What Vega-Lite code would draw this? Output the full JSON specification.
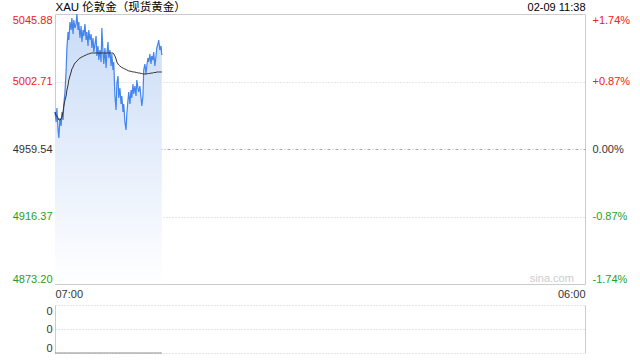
{
  "$schema": "https://vega.github.io/schema/vega-lite/v6.json",
  "background": "white",
  "padding": {"left": 11, "top": 0, "right": 0, "bottom": 0},
  "spacing": 5,
  "config": {
    "font": "Liberation Sans, Noto Sans CJK SC",
    "view": {"stroke": "#cccccc"},
    "axis": {"labelFont": "Liberation Sans", "labelFontSize": 11, "titleFont": "Liberation Sans, Noto Sans CJK SC"}
  },
  "datasets": {
    "px": [
      {"t":0,"p":4983.20,"a":4983.20,"v":0},{"t":3,"p":4976.80,"a":4980.64,"v":0},{"t":5,"p":4985.76,"a":4980.64,"v":0},{"t":8,"p":4971.69,"a":4979.36,"v":0},
      {"t":10,"p":4966.57,"a":4978.08,"v":0},{"t":13,"p":4979.36,"a":4978.08,"v":0},{"t":16,"p":4974.25,"a":4978.72,"v":0},{"t":18,"p":4983.20,"a":4980.00,"v":0},
      {"t":21,"p":4978.08,"a":4983.20,"v":0},{"t":23,"p":4988.31,"a":4987.04,"v":0},{"t":26,"p":4995.99,"a":4990.87,"v":0},{"t":29,"p":5010.06,"a":4993.43,"v":0},
      {"t":31,"p":5024.13,"a":4997.27,"v":0},{"t":34,"p":5034.36,"a":5000.47,"v":0},{"t":36,"p":5029.25,"a":5003.67,"v":0},{"t":39,"p":5040.76,"a":5006.22,"v":0},
      {"t":42,"p":5035.64,"a":5008.78,"v":0},{"t":44,"p":5043.32,"a":5010.70,"v":0},{"t":47,"p":5033.09,"a":5011.98,"v":0},{"t":49,"p":5042.04,"a":5013.26,"v":0},
      {"t":52,"p":5036.92,"a":5014.54,"v":0},{"t":55,"p":5039.48,"a":5015.18,"v":0},{"t":57,"p":5045.88,"a":5015.82,"v":0},{"t":60,"p":5035.64,"a":5016.46,"v":0},
      {"t":62,"p":5040.76,"a":5017.10,"v":0},{"t":65,"p":5030.53,"a":5017.74,"v":0},{"t":68,"p":5038.20,"a":5018.05,"v":0},{"t":70,"p":5027.97,"a":5018.37,"v":0},
      {"t":73,"p":5035.64,"a":5018.69,"v":0},{"t":75,"p":5031.81,"a":5019.01,"v":0},{"t":78,"p":5039.48,"a":5019.33,"v":0},{"t":81,"p":5029.25,"a":5019.65,"v":0},
      {"t":83,"p":5034.36,"a":5019.97,"v":0},{"t":86,"p":5025.41,"a":5020.29,"v":0},{"t":88,"p":5035.64,"a":5020.29,"v":0},{"t":91,"p":5029.25,"a":5020.61,"v":0},
      {"t":94,"p":5033.09,"a":5020.94,"v":0},{"t":96,"p":5024.13,"a":5020.94,"v":0},{"t":99,"p":5030.53,"a":5020.94,"v":0},{"t":101,"p":5021.57,"a":5020.94,"v":0},
      {"t":104,"p":5026.69,"a":5020.94,"v":0},{"t":107,"p":5031.81,"a":5020.94,"v":0},{"t":109,"p":5019.01,"a":5020.94,"v":0},{"t":112,"p":5025.41,"a":5020.94,"v":0},
      {"t":114,"p":5016.46,"a":5020.94,"v":0},{"t":117,"p":5022.85,"a":5020.94,"v":0},{"t":120,"p":5015.18,"a":5020.94,"v":0},{"t":122,"p":5036.92,"a":5020.94,"v":0},
      {"t":125,"p":5021.57,"a":5020.94,"v":0},{"t":127,"p":5013.90,"a":5020.94,"v":0},{"t":130,"p":5024.13,"a":5020.94,"v":0},{"t":133,"p":5011.34,"a":5020.94,"v":0},
      {"t":135,"p":5020.29,"a":5020.94,"v":0},{"t":138,"p":5027.97,"a":5020.94,"v":0},{"t":140,"p":5017.74,"a":5020.94,"v":0},{"t":143,"p":5022.85,"a":5020.94,"v":0},
      {"t":146,"p":5012.62,"a":5020.94,"v":0},{"t":148,"p":5020.29,"a":5020.94,"v":0},{"t":151,"p":5010.06,"a":5020.94,"v":0},{"t":153,"p":5015.18,"a":5020.29,"v":0},
      {"t":156,"p":4993.43,"a":5019.01,"v":0},{"t":159,"p":4984.48,"a":5017.10,"v":0},{"t":161,"p":5001.11,"a":5015.18,"v":0},{"t":164,"p":5006.22,"a":5013.90,"v":0},
      {"t":166,"p":4992.15,"a":5013.26,"v":0},{"t":169,"p":4998.55,"a":5012.62,"v":0},{"t":172,"p":4988.31,"a":5011.98,"v":0},{"t":174,"p":4993.43,"a":5011.66,"v":0},
      {"t":177,"p":4983.20,"a":5011.34,"v":0},{"t":179,"p":4988.31,"a":5011.02,"v":0},{"t":182,"p":4976.80,"a":5010.70,"v":0},{"t":185,"p":4971.69,"a":5010.38,"v":0},
      {"t":187,"p":4981.92,"a":5010.06,"v":0},{"t":190,"p":4990.87,"a":5009.74,"v":0},{"t":192,"p":4995.99,"a":5009.42,"v":0},{"t":195,"p":4988.31,"a":5009.42,"v":0},
      {"t":198,"p":4997.27,"a":5009.10,"v":0},{"t":200,"p":4992.15,"a":5009.10,"v":0},{"t":203,"p":5001.11,"a":5008.78,"v":0},{"t":205,"p":4994.71,"a":5008.78,"v":0},
      {"t":208,"p":4999.83,"a":5008.78,"v":0},{"t":211,"p":4993.43,"a":5008.46,"v":0},{"t":213,"p":5003.67,"a":5008.46,"v":0},{"t":216,"p":4998.55,"a":5008.14,"v":0},
      {"t":218,"p":4995.99,"a":5008.14,"v":0},{"t":221,"p":4999.83,"a":5008.14,"v":0},{"t":224,"p":4992.15,"a":5007.82,"v":0},{"t":226,"p":4987.04,"a":5007.82,"v":0},
      {"t":229,"p":4993.43,"a":5007.50,"v":0},{"t":231,"p":5010.06,"a":5007.50,"v":0},{"t":234,"p":5013.90,"a":5007.50,"v":0},{"t":237,"p":5007.50,"a":5007.50,"v":0},
      {"t":239,"p":5012.62,"a":5007.50,"v":0},{"t":242,"p":5017.74,"a":5007.82,"v":0},{"t":244,"p":5015.18,"a":5007.82,"v":0},{"t":247,"p":5020.29,"a":5007.82,"v":0},
      {"t":250,"p":5013.90,"a":5008.14,"v":0},{"t":252,"p":5019.01,"a":5008.14,"v":0},{"t":255,"p":5016.46,"a":5008.14,"v":0},{"t":257,"p":5021.57,"a":5008.46,"v":0},
      {"t":260,"p":5012.62,"a":5008.46,"v":0},{"t":263,"p":5019.01,"a":5008.46,"v":0},{"t":265,"p":5024.13,"a":5008.78,"v":0},{"t":268,"p":5026.69,"a":5008.78,"v":0},
      {"t":270,"p":5029.25,"a":5008.78,"v":0},{"t":273,"p":5022.85,"a":5008.78,"v":0},{"t":276,"p":5025.41,"a":5008.78,"v":0},{"t":278,"p":5019.65,"a":5008.78,"v":0}
    ]
  },
  "vconcat": [
    {
      "width": 530,
      "height": 270,
      "data": {"name": "px"},
      "encoding": {
        "x": {"field": "t", "type": "quantitative", "scale": {"domain": [0, 1380], "nice": false},
          "axis": {"values": [0, 1380], "labelExpr": "datum.value == 0 ? '07:00' : '06:00'", "labelFlush": true, "labelFlushOffset": 0, "ticks": false, "domain": false, "grid": false, "labelPadding": 4, "title": null, "labelColor": "#333333"}}
      },
      "layer": [
        {
          "mark": {"type": "area", "color": {"gradient": "linear", "x1": 0, "y1": 0, "x2": 0, "y2": 1, "stops": [{"offset": 0, "color": "#c8dbf7"}, {"offset": 1, "color": "#ffffff"}]}},
          "encoding": {
            "y": {"field": "p", "type": "quantitative", "scale": {"domain": [4873.2, 5045.88], "zero": false, "nice": false},
              "axis": {
                "orient": "left",
                "values": [4873.2, 4916.37, 4959.54, 5002.71, 5045.88],
                "format": ".2f",
                "labelFlush": true, "labelFlushOffset": 0,
                "ticks": false, "domain": false, "labelPadding": 3,
                "labelColor": {"condition": [{"test": "datum.value > 4960", "value": "#f02020"}, {"test": "datum.value < 4959", "value": "#1f9f1f"}], "value": "#333333"},
                "grid": true,
                "gridColor": {"condition": {"test": "abs(datum.value - 4959.54) < 0.01", "value": "#a8a8a8"}, "value": "#cccccc"},
                "gridDash": {"condition": {"test": "abs(datum.value - 4959.54) < 0.01", "value": [3, 2, 1, 2]}, "value": [1, 2]},
                "title": "XAU 伦敦金（现货黄金）",
                "titleAngle": 0, "titleAlign": "left", "titleBaseline": "bottom", "titleX": 0, "titleY": -2,
                "titleFontSize": 11.5, "titleFontWeight": "normal", "titleColor": "#000000"
              }},
            "y2": {"datum": 4873.2}
          }
        },
        {
          "mark": {"type": "line", "color": "#4384ee", "strokeWidth": 1.2},
          "encoding": {
            "y": {"field": "p", "type": "quantitative",
              "axis": {
                "orient": "right",
                "values": [4873.2, 4916.37, 4959.54, 5002.71, 5045.88],
                "labelExpr": "(datum.value > 4960 ? '+' : (datum.value < 4959 ? '-' : '')) + format(abs(datum.value - 4959.54) / 4959.54 * 100, '.2f') + '%'",
                "labelFlush": true, "labelFlushOffset": 0,
                "ticks": false, "domain": false, "grid": false, "labelPadding": 7,
                "labelColor": {"condition": [{"test": "datum.value > 4960", "value": "#f02020"}, {"test": "datum.value < 4959", "value": "#1f9f1f"}], "value": "#333333"},
                "title": "02-09 11:38",
                "titleAngle": 0, "titleAlign": "right", "titleBaseline": "bottom", "titleX": 0, "titleY": -2,
                "titleFontSize": 11, "titleFontWeight": "normal", "titleColor": "#000000"
              }}
          }
        },
        {
          "mark": {"type": "line", "color": "#333333", "strokeWidth": 1},
          "encoding": {
            "y": {"field": "a", "type": "quantitative", "axis": null}
          }
        },
        {
          "data": {"values": [{"w": "sina.com", "t": 1351}]},
          "mark": {"type": "text", "color": "#cccccc", "fontSize": 11, "align": "right", "baseline": "alphabetic"},
          "encoding": {
            "y": {"datum": 4874.5, "type": "quantitative", "axis": null},
            "text": {"field": "w"}
          }
        }
      ],
      "resolve": {"axis": {"y": "independent"}}
    },
    {
      "width": 530,
      "height": 48,
      "data": {"name": "px"},
      "view": {"stroke": null},
      "encoding": {
        "x": {"field": "t", "type": "quantitative", "scale": {"domain": [0, 1380], "nice": false}, "axis": null}
      },
      "layer": [
        {
          "mark": {"type": "line", "color": "#888888", "strokeWidth": 1},
          "encoding": {
            "y": {"field": "v", "type": "quantitative", "scale": {"domain": [0, 2], "nice": false},
              "axis": {"orient": "left", "values": [0, 1, 2], "labelExpr": "'0'", "labelFlush": true, "labelFlushOffset": 0, "ticks": false,
                "domain": true, "domainColor": "#cccccc", "grid": true, "gridColor": "#cccccc", "gridDash": [1, 2], "title": null, "labelPadding": 3, "labelColor": "#333333"}}
          }
        },
        {
          "mark": {"type": "line", "opacity": 0},
          "encoding": {
            "y": {"field": "v", "type": "quantitative",
              "axis": {"orient": "right", "labels": false, "ticks": false, "grid": false, "domain": true, "domainColor": "#cccccc", "title": null}}
          }
        }
      ],
      "resolve": {"axis": {"y": "independent"}}
    }
  ]
}
